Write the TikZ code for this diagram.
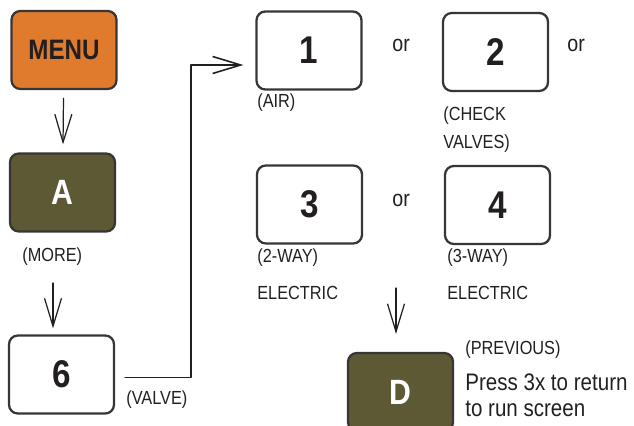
\documentclass[tikz,border=0pt]{standalone}
\usepackage{fontspec}
\setmainfont[FakeStretch=0.86]{Liberation Sans}
\usetikzlibrary{arrows.meta}
\definecolor{keyorange}{HTML}{E07B2E}
\definecolor{keyolive}{HTML}{5C5934}
\definecolor{ink}{HTML}{231F20}
\begin{document}
\begin{tikzpicture}[x=0.02cm,y=-0.02cm,line join=round,line cap=round,>={Straight Barb[length=5.6mm,width=3.4mm]}]
	\tikzset{key/.style={draw=ink!90,line width=1.3pt,rounded corners=5pt,minimum width=2.1cm,minimum height=1.56cm,inner sep=0pt,text=ink,font=\fontsize{22}{22}\selectfont\bfseries},
		keyO/.style={key,fill=keyorange,font=\fontsize{16}{16}\selectfont\bfseries},
		keyG/.style={key,fill=keyolive,text=white,font=\fontsize{20}{20}\selectfont\bfseries},
		lbl/.style={anchor=west,inner sep=0pt,text=ink,font=\fontsize{10.8}{10.8}\selectfont},
		arr/.style={->,draw=ink,line width=0.7pt}}
	\useasboundingbox (0,0) rectangle (634,425);
	% left column
	\node[keyO] (menu) at (64,50) {MENU};
	\node[keyG] (keyA) at (62.5,192.5) {A};
	\node[key] (key6) at (61.5,374.5) {6};
	\node[lbl] (lblMore) at (22,257) {(MORE)};
	\node[lbl] (lblValve) at (126,400) {(VALVE)};
	% choice keys
	\foreach \n/\x/\y in {1/309/50.5,2/495.5/52,3/309.5/204.5,4/497.5/205}
		\node[key] (key\n) at (\x,\y) {\n};
	\node[keyG] (keyD) at (400.5,392) {D};
	\foreach \x/\y/\nm in {392/45/or1,567/45/or2,392/200/or3}
		\node[lbl,font=\fontsize{13}{13}\selectfont] (\nm) at (\x,\y) {or};
	\node[lbl] (lblAir) at (257,103) {(AIR)};
	\node[lbl,align=left,font=\fontsize{10.8}{16}\selectfont,anchor=north west] (lblCheck) at (443,106) {(CHECK\\VALVES)};
	\node[lbl] (lbl2way) at (257,258) {(2-WAY)};
	\node[lbl] (lblElec3) at (257,293) {ELECTRIC};
	\node[lbl] (lbl3way) at (447,258) {(3-WAY)};
	\node[lbl] (lblElec4) at (447,293) {ELECTRIC};
	\node[lbl] (lblPrev) at (465,350) {(PREVIOUS)};
	\node[lbl,align=left,font=\fontsize{13.6}{14.8}\selectfont] (lblPress) at (465,395)
		{Press 3x to return\\to run screen};
	% connectors
	\coordinate (a2s) at (53,283);
	\coordinate (a3s) at (396,288);
	\coordinate (vtop) at (191,65);
	\draw[arr,shorten <=0.16cm,shorten >=0.16cm] (menu) -- (keyA);
	\draw[arr,shorten >=0.12cm] (a2s) -- (a2s |- key6.north);
	\draw[arr,shorten >=0.36cm] (a3s) -- (a3s |- keyD.north);
	\draw[arr,line width=0.9pt] ([xshift=0.2cm,yshift=-0.06cm]key6.east) -| (vtop) -- ([xshift=-0.24cm]vtop -| key1.west);
\end{tikzpicture}
\end{document}
